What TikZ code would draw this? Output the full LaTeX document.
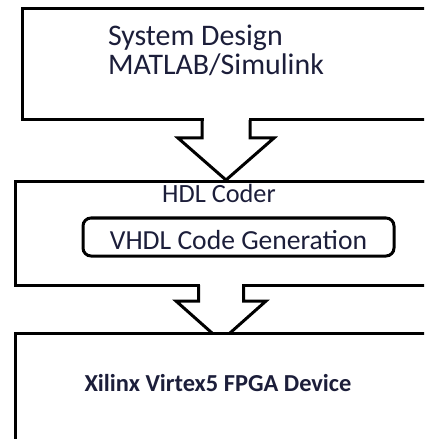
\documentclass[tikz,border=0pt]{standalone}
\usepackage{fontspec}
\setmainfont{Carlito}
\usetikzlibrary{calc}
\definecolor{txt}{RGB}{28,30,58}
\begin{document}
\begin{tikzpicture}[x=1bp,y=-1bp, line join=miter,
  box/.style={draw, line width=3bp, fill=white, rectangle, outer sep=0pt, inner sep=0pt, anchor=north west},
  fatarrow/.style={draw, line width=3bp},
  lbl/.style={text=txt, inner sep=0pt, outer sep=0pt}]
\useasboundingbox (0,0) rectangle (424,439);
\fill[white] (0,0) rectangle (424,439);
\clip (0,0) rectangle (424,439);
% top box
\node[box, minimum width=440bp, minimum height=111bp] (sys) at (22,9) {};
\node[lbl, anchor=base west, align=left, font=\fontsize{30}{30}\selectfont] (systxt) at (108,75) {System Design\\MATLAB/Simulink};
% second box
\coordinate (c1) at (226,0);
\coordinate (c2) at (221,0);
\node[box, minimum width=450bp, minimum height=103bp] (hdl) at (15,182) {};
% arrow 1
\coordinate (t1) at (sys.south -| c1);
\fill[white] ($(t1)+(-22.5,-2.5)$) rectangle ($(t1)+(22.5,3)$);
\draw[fatarrow] ($(t1)+(-24,0)$) -- ($(t1)+(-24,18)$) -- ($(t1)+(-48,18)$) -- ($(hdl.north -| c1)+(0,-2)$) -- ($(t1)+(48,18)$) -- ($(t1)+(24,18)$) -- ($(t1)+(24,0)$);
\draw[line width=3bp] (hdl.north west) -- (hdl.north east);
\node[lbl, anchor=base, font=\fontsize{26.4}{26.4}\selectfont] (hdltxt) at (219,203) {HDL Coder};
\node[draw, line width=3bp, rounded corners=8bp, minimum width=311bp, minimum height=38bp, inner sep=0pt, text=txt, text height=24bp, text depth=0pt, font=\fontsize{27.7}{27.7}\selectfont] (vhdl) at (238.5,237) {VHDL Code Generation};
% arrow 2
\coordinate (t2) at (hdl.south -| c2);
\fill[white] ($(t2)+(-21,-2.5)$) rectangle ($(t2)+(21,3)$);
\draw[fatarrow] ($(t2)+(-22.5,0)$) -- ($(t2)+(-22.5,16)$) -- ($(t2)+(-45,16)$) -- ($(t2)+(0,56)$) -- ($(t2)+(45,16)$) -- ($(t2)+(22.5,16)$) -- ($(t2)+(22.5,0)$);
% bottom box
\node[box, minimum width=450bp, minimum height=200bp] (fpga) at (15,333) {};
\node[lbl, anchor=base, font=\bfseries\fontsize{24.5}{24.5}\selectfont] (fpgatxt) at (218,391) {Xilinx Virtex5 FPGA Device};
\end{tikzpicture}
\end{document}
